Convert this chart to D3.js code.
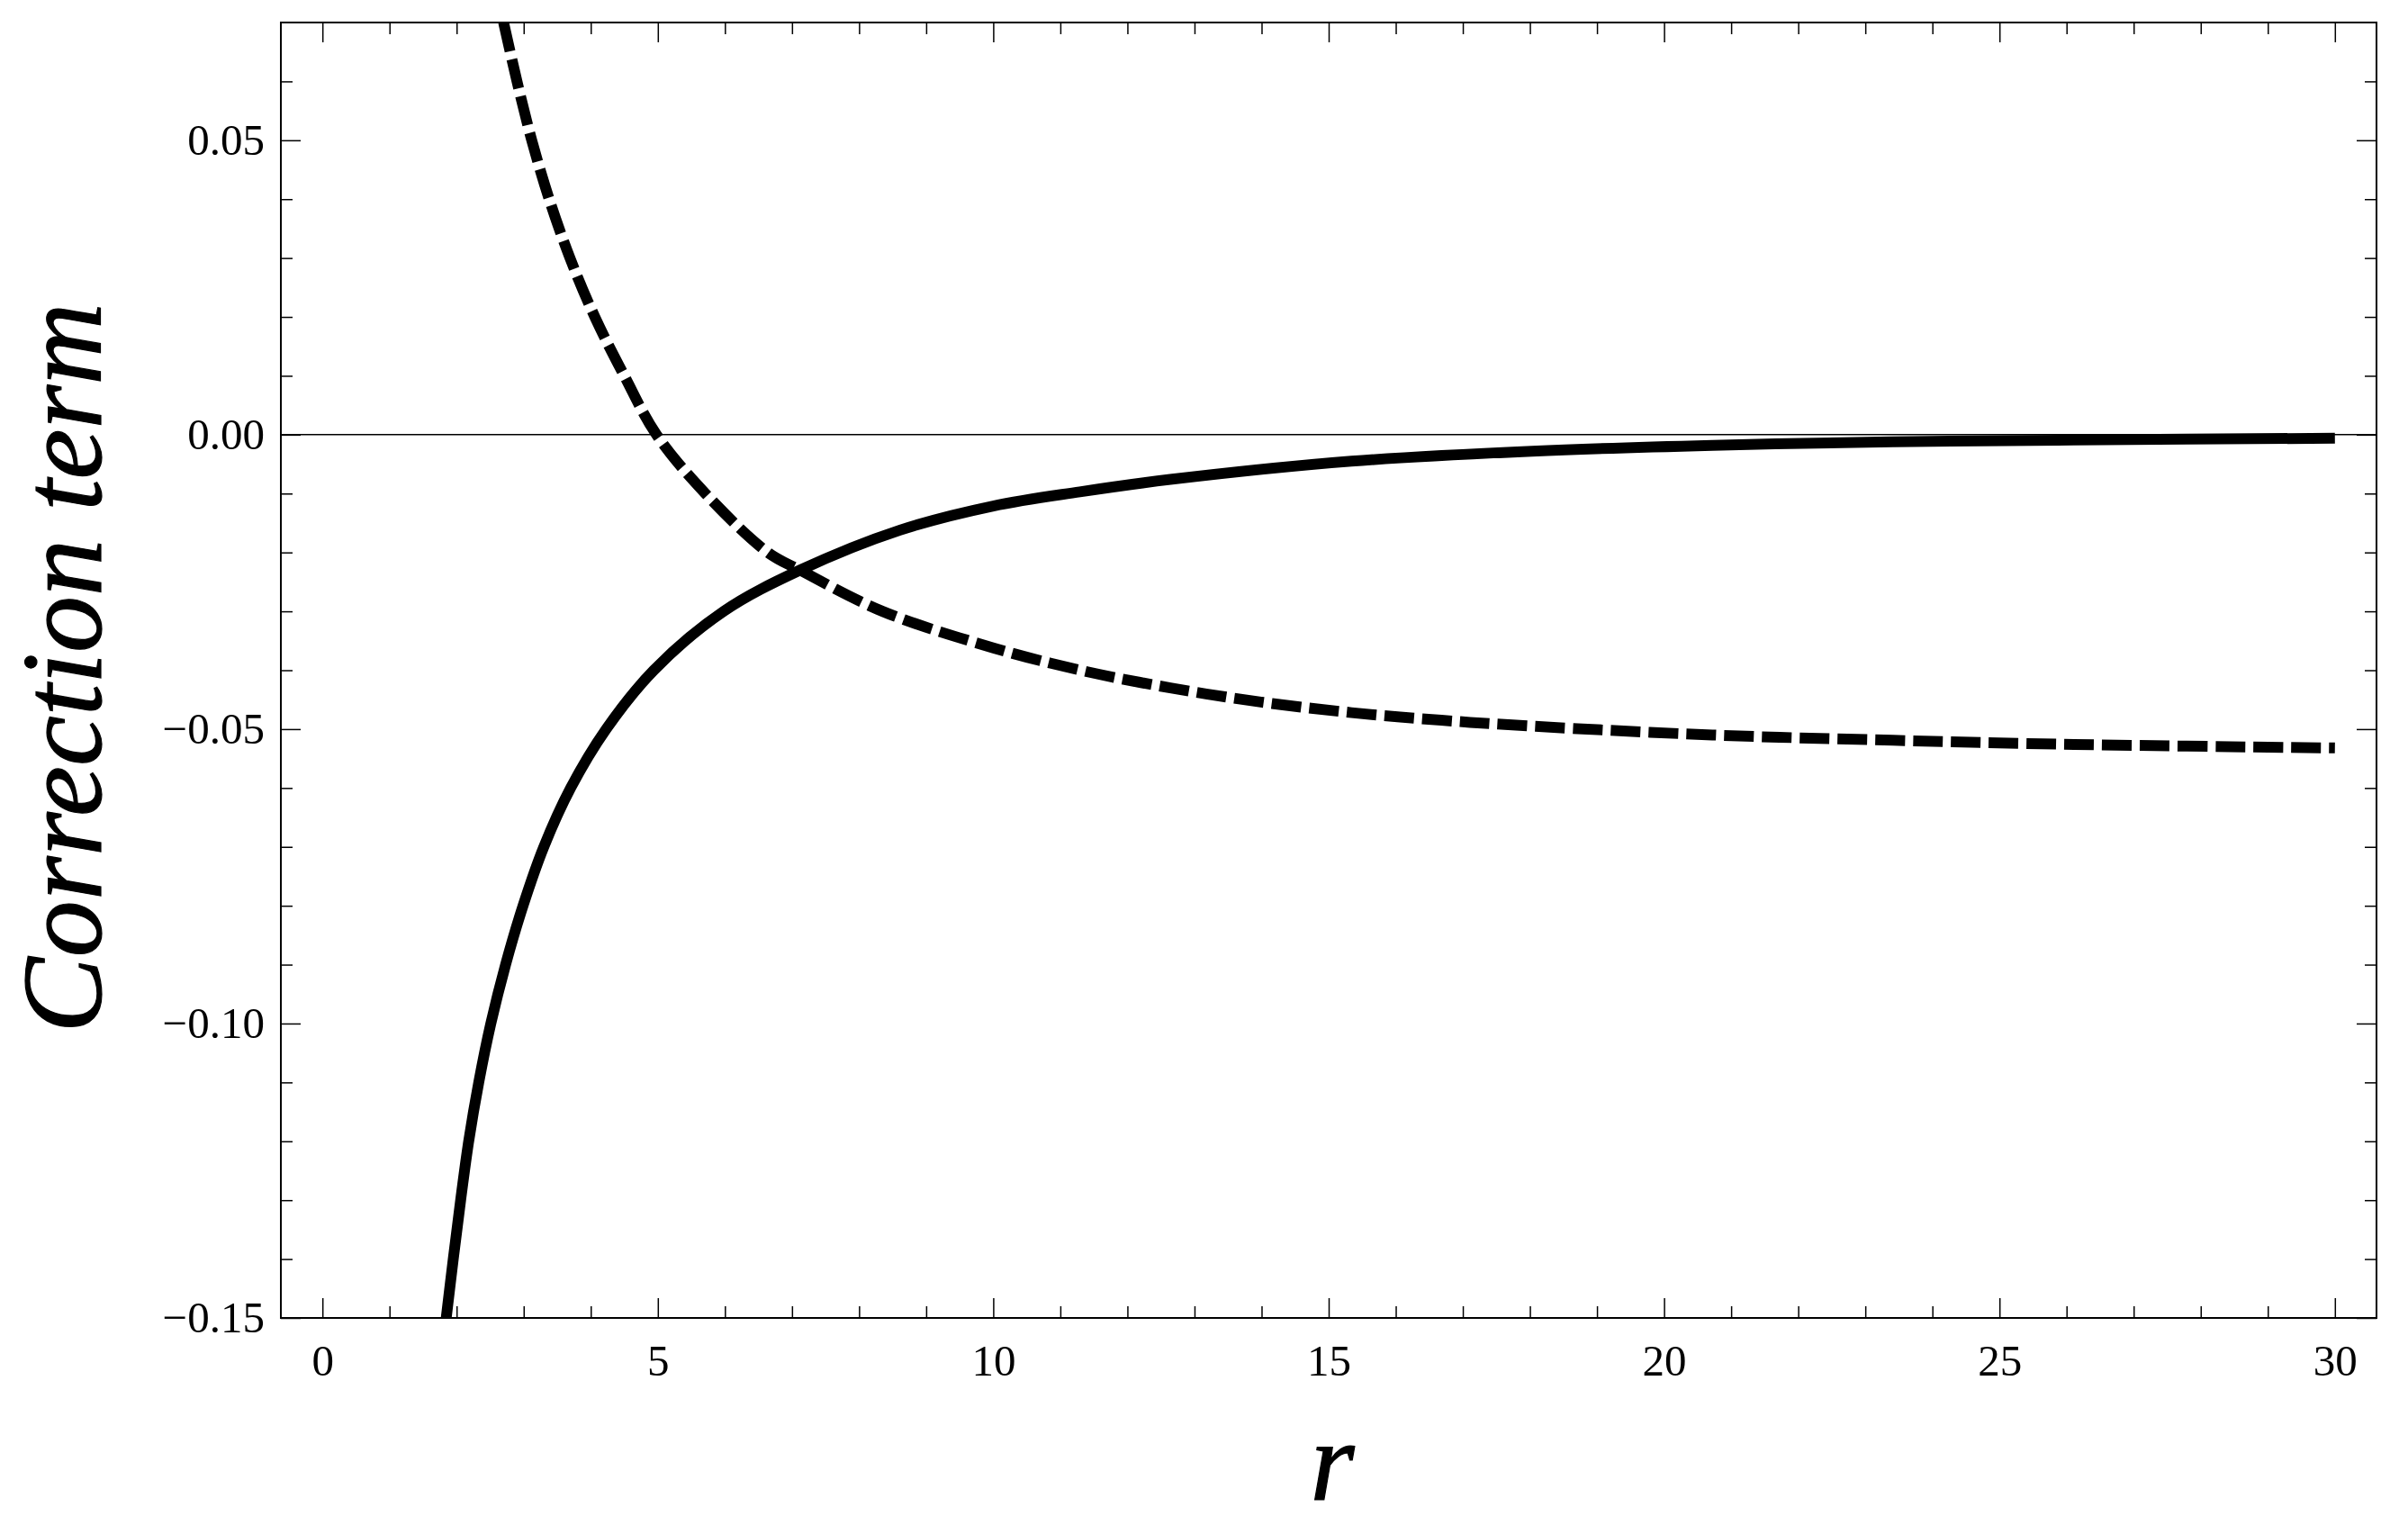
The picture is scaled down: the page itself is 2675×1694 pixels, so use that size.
<!DOCTYPE html>
<html>
<head>
<meta charset="utf-8">
<title>Correction term</title>
<script src="https://d3js.org/d3.v7.min.js"></script>
<style>
  body { margin: 0; background: #fff; }
</style>
</head>
<body>
<svg width="2675" height="1694"></svg>
<script>
// solid curve
var solidR = [1.845, 1.95, 2.06, 2.18, 2.33, 2.51, 2.73, 2.99, 3.30, 3.70, 4.23, 4.94, 5.98, 7.12, 8.61, 10.0, 11.29, 12.64, 15.34, 18.03, 20.72, 23.41, 26.11, 30.0];
var solidV = [-0.150, -0.140, -0.130, -0.120, -0.110, -0.100, -0.090, -0.080, -0.070, -0.060, -0.050, -0.040, -0.030, -0.0230, -0.0162, -0.0121, -0.0097, -0.0076, -0.0045, -0.0028, -0.0018, -0.0012, -0.0009, -0.0006];

// dashed curve
var dashR = [2.70, 2.90, 3.12, 3.38, 3.69, 4.06, 4.50, 4.98, 5.71, 6.64, 7.12, 8.35, 10.0, 11.3, 12.64, 13.99, 15.34, 16.68, 18.03, 20.72, 23.41, 26.11, 30.0];
var dashV = [0.070, 0.060, 0.050, 0.040, 0.030, 0.020, 0.010, 0.000, -0.010, -0.020, -0.0230, -0.0300, -0.0362, -0.0400, -0.0430, -0.0454, -0.0472, -0.0485, -0.0495, -0.0510, -0.0519, -0.0526, -0.0532];

// ticks
var xMajor = [0, 5, 10, 15, 20, 25, 30];
var xMinor = d3.range(0, 31).filter(function(d) { return d % 5 !== 0; });
var yMajor = [-0.15, -0.10, -0.05, 0.00, 0.05];
var yMinor = [-0.14, -0.13, -0.12, -0.11, -0.09, -0.08, -0.07, -0.06, -0.04, -0.03, -0.02, -0.01, 0.01, 0.02, 0.03, 0.04, 0.06];

var pLeft = 312, pRight = 2640, pTop = 25, pBottom = 1464;
var majorLen = 22, minorLen = 13;
var font = "'Liberation Serif', 'Times New Roman', serif";

var x = d3.scaleLinear().domain([-0.62, 30.62]).range([pLeft, pRight]);
var y = d3.scaleLinear().domain([-0.15, 0.07]).range([pBottom, pTop]);

var svg = d3.select("svg");
svg.append("rect").attr("width", 2675).attr("height", 1694).attr("fill", "#fff");

svg.append("defs").append("clipPath").attr("id", "clip")
    .append("rect")
    .attr("x", pLeft).attr("y", pTop)
    .attr("width", pRight - pLeft).attr("height", pBottom - pTop);

// zero line
svg.append("line")
    .attr("x1", pLeft).attr("x2", pRight)
    .attr("y1", y(0)).attr("y2", y(0))
    .attr("stroke", "#000").attr("stroke-width", 1.5);

// curves
var line = d3.line()
    .x(function(d) { return x(d[0]); })
    .y(function(d) { return y(d[1]); })
    .curve(d3.curveCatmullRom.alpha(0.5));

var plot = svg.append("g").attr("clip-path", "url(#clip)");

plot.append("path")
    .datum(d3.zip(solidR, solidV))
    .attr("d", line)
    .attr("fill", "none")
    .attr("stroke", "#000")
    .attr("stroke-width", 12);

plot.append("path")
    .datum(d3.zip(dashR, dashV))
    .attr("d", line)
    .attr("fill", "none")
    .attr("stroke", "#000")
    .attr("stroke-width", 12)
    .attr("stroke-dasharray", "33,9");

// axes with inward ticks
function styleAxis(g) {
    g.select(".domain").remove();
    g.selectAll("line").attr("stroke", "#000").attr("stroke-width", 1.5);
    g.selectAll("text").attr("font-family", font).attr("font-size", 49).attr("fill", "#000");
}

svg.append("g").attr("transform", "translate(0," + pBottom + ")")
    .call(d3.axisBottom(x).tickValues(xMajor).tickSize(-majorLen).tickPadding(29).tickFormat(d3.format("d")))
    .call(styleAxis);
svg.append("g").attr("transform", "translate(0," + pBottom + ")")
    .call(d3.axisBottom(x).tickValues(xMinor).tickSize(-minorLen).tickFormat(""))
    .call(styleAxis);
svg.append("g").attr("transform", "translate(0," + pTop + ")")
    .call(d3.axisTop(x).tickValues(xMajor).tickSize(-majorLen).tickFormat(""))
    .call(styleAxis);
svg.append("g").attr("transform", "translate(0," + pTop + ")")
    .call(d3.axisTop(x).tickValues(xMinor).tickSize(-minorLen).tickFormat(""))
    .call(styleAxis);

svg.append("g").attr("transform", "translate(" + pLeft + ",0)")
    .call(d3.axisLeft(y).tickValues(yMajor).tickSize(-majorLen).tickPadding(18).tickFormat(d3.format(".2f")))
    .call(styleAxis);
svg.append("g").attr("transform", "translate(" + pLeft + ",0)")
    .call(d3.axisLeft(y).tickValues(yMinor).tickSize(-minorLen).tickFormat(""))
    .call(styleAxis);
svg.append("g").attr("transform", "translate(" + pRight + ",0)")
    .call(d3.axisRight(y).tickValues(yMajor).tickSize(-majorLen).tickFormat(""))
    .call(styleAxis);
svg.append("g").attr("transform", "translate(" + pRight + ",0)")
    .call(d3.axisRight(y).tickValues(yMinor).tickSize(-minorLen).tickFormat(""))
    .call(styleAxis);

// frame
svg.append("rect")
    .attr("x", pLeft).attr("y", pTop)
    .attr("width", pRight - pLeft).attr("height", pBottom - pTop)
    .attr("fill", "none").attr("stroke", "#000").attr("stroke-width", 2);

// axis labels
svg.append("text")
    .attr("transform", "translate(112,742) rotate(-90)")
    .attr("text-anchor", "middle")
    .attr("font-family", font)
    .attr("font-style", "italic")
    .attr("font-size", 126)
    .attr("stroke", "#000")
    .attr("stroke-width", 1.2)
    .text("Correction term");

svg.append("text")
    .attr("x", (pLeft + pRight) / 2 + 4)
    .attr("y", 1666)
    .attr("text-anchor", "middle")
    .attr("font-family", font)
    .attr("font-style", "italic")
    .attr("font-size", 126)
    .attr("stroke", "#000")
    .attr("stroke-width", 1.2)
    .text("r");
</script>
</body>
</html>
